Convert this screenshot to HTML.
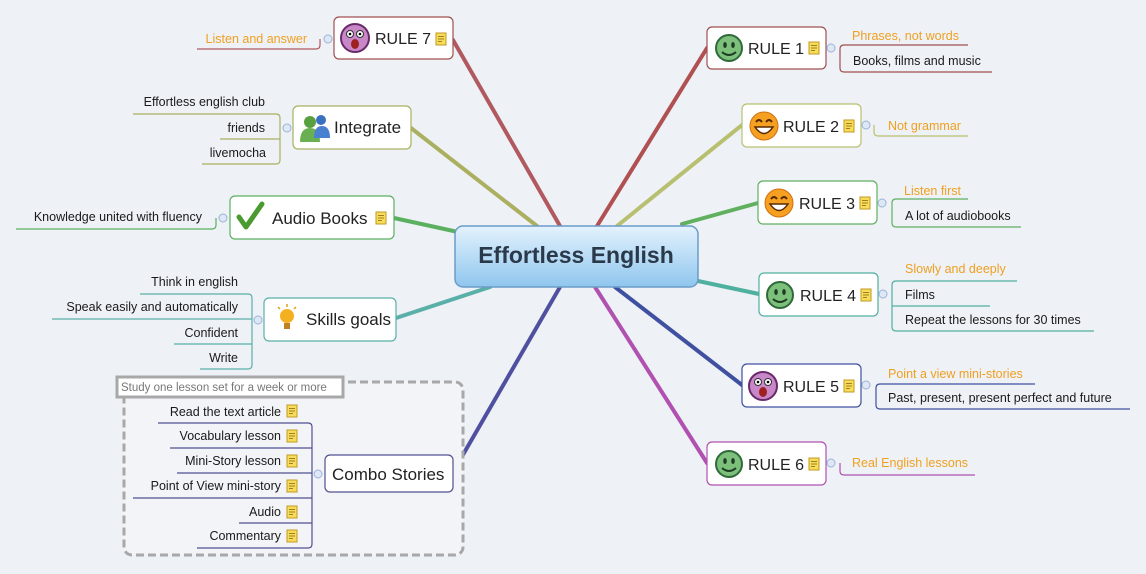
<!DOCTYPE html>
<html><head><meta charset="utf-8"><style>
html,body{margin:0;padding:0;background:#eef1f6;}
svg{display:block;font-family:"Liberation Sans",sans-serif;}
.l{font-size:12.5px;fill:#1a1a1a}
.o{font-size:12.5px;fill:#f0a020}
.n{font-size:17px;fill:#222}
.r{font-size:16px;fill:#222}
</style></head><body>
<svg width="1146" height="574" viewBox="0 0 1146 574" xmlns="http://www.w3.org/2000/svg">
<defs>
<linearGradient id="cg" x1="0" y1="0" x2="0" y2="1"><stop offset="0" stop-color="#e4f2fd"/><stop offset="1" stop-color="#8fc6ee"/></linearGradient>
<g id="note"><rect x="0" y="0" width="10" height="12" fill="#f7dc5a" stroke="#c09a20" stroke-width="1"/><line x1="2" y1="3.5" x2="8" y2="3.5" stroke="#a08020"/><line x1="2" y1="6" x2="8" y2="6" stroke="#a08020"/><line x1="2" y1="8.5" x2="6" y2="8.5" stroke="#a08020"/></g>
<g id="green"><circle r="13" fill="#7cc07c" stroke="#2f6a3a" stroke-width="2"/><ellipse cx="-4" cy="-3" rx="1.8" ry="3" fill="#1d3d22"/><ellipse cx="4" cy="-3" rx="1.8" ry="3" fill="#1d3d22"/><path d="M-7 4 Q0 10 7 4" stroke="#1d3d22" stroke-width="2" fill="none"/></g>
<g id="laugh"><circle r="14" fill="#f5a020" stroke="#d07010" stroke-width="1"/><path d="M-8 -4 Q-5 -8 -2 -4 M2 -4 Q5 -8 8 -4" stroke="#5a2a00" stroke-width="2" fill="none"/><path d="M-9 1 Q0 14 9 1 Z" fill="#fff" stroke="#5a2a00" stroke-width="1.5"/></g>
<g id="shock"><circle r="14" fill="#c888c8" stroke="#6a2a6a" stroke-width="2"/><circle cx="-5" cy="-4" r="3.5" fill="#fff" stroke="#333"/><circle cx="5" cy="-4" r="3.5" fill="#fff" stroke="#333"/><circle cx="-5" cy="-4" r="1.3" fill="#000"/><circle cx="5" cy="-4" r="1.3" fill="#000"/><ellipse cx="0" cy="6" rx="4" ry="5" fill="#a02020"/></g>
</defs>

<g stroke-linecap="round" fill="none">
<path d="M453 40 L560 226" stroke="#b05a60" stroke-width="4"/>
<path d="M411 128 L537 226" stroke="#aab060" stroke-width="4"/>
<path d="M394 218 L458 232" stroke="#5bb060" stroke-width="4"/>
<path d="M396 318 L490 287" stroke="#5ab0a8" stroke-width="4"/>
<path d="M453 472 L560 287" stroke="#5050a0" stroke-width="4"/>
<path d="M707 48 L597 226" stroke="#b05050" stroke-width="4"/>
<path d="M742 125 L617 226" stroke="#b8c070" stroke-width="4"/>
<path d="M758 203 L682 224" stroke="#60b060" stroke-width="4"/>
<path d="M759 294 L698 281" stroke="#50b0a0" stroke-width="4"/>
<path d="M742 385 L615 287" stroke="#4050a0" stroke-width="4"/>
<path d="M707 463 L595 287" stroke="#b050b0" stroke-width="4"/>
</g>

<rect x="455" y="226" width="243" height="61" rx="8" fill="url(#cg)" stroke="#6a9cc8" stroke-width="1.5"/>
<text x="576" y="263" text-anchor="middle" style="font-size:23px;font-weight:bold;fill:#2a3a4a">Effortless English</text>

<rect x="124" y="382" width="339" height="173" rx="8" fill="#f2f4f8" stroke="#a8a8a8" stroke-width="3" stroke-dasharray="8 4"/>
<rect x="117" y="377" width="226" height="20" fill="#fff" stroke="#a8a8a8" stroke-width="3"/>
<text x="121" y="391" style="font-size:11.5px;fill:#777">Study one lesson set for a week or more</text>

<g fill="#fff" stroke-width="1.2">
<rect x="707" y="27" width="119" height="42" rx="5" stroke="#a05050"/>
<rect x="742" y="104" width="119" height="43" rx="5" stroke="#b8c070"/>
<rect x="758" y="181" width="119" height="43" rx="5" stroke="#60b060"/>
<rect x="759" y="273" width="119" height="43" rx="5" stroke="#50b0a0"/>
<rect x="742" y="364" width="119" height="43" rx="5" stroke="#4050a0"/>
<rect x="707" y="442" width="119" height="43" rx="5" stroke="#b050b0"/>
<rect x="334" y="17" width="119" height="42" rx="5" stroke="#a05050"/>
<rect x="293" y="106" width="118" height="43" rx="5" stroke="#aab060"/>
<rect x="230" y="196" width="164" height="43" rx="5" stroke="#5bb060"/>
<rect x="264" y="298" width="132" height="43" rx="5" stroke="#5ab0a8"/>
<rect x="325" y="455" width="128" height="37" rx="5" stroke="#505090"/>
</g>
<use href="#green" x="729" y="48"/><text class="r" x="748" y="54">RULE 1</text><use href="#note" x="809" y="42"/>
<use href="#laugh" x="764" y="126"/><text class="r" x="783" y="132">RULE 2</text><use href="#note" x="844" y="120"/>
<use href="#laugh" x="779" y="203"/><text class="r" x="799" y="209">RULE 3</text><use href="#note" x="860" y="197"/>
<use href="#green" x="780" y="295"/><text class="r" x="800" y="301">RULE 4</text><use href="#note" x="861" y="289"/>
<use href="#shock" x="763" y="386"/><text class="r" x="783" y="392">RULE 5</text><use href="#note" x="844" y="380"/>
<use href="#green" x="729" y="464"/><text class="r" x="748" y="470">RULE 6</text><use href="#note" x="809" y="458"/>
<use href="#shock" x="355" y="38"/><text class="r" x="375" y="44">RULE 7</text><use href="#note" x="436" y="33"/>
<g transform="translate(300,114)"><circle cx="10" cy="8" r="6" fill="#5aa040"/><path d="M0 28 Q0 14 10 14 Q20 14 20 28 Z" fill="#6ab050"/><circle cx="21" cy="6" r="5" fill="#3a70c0"/><path d="M14 24 Q14 12 22 12 Q30 12 30 24 Z" fill="#4a80d0"/></g>
<text class="n" x="334" y="133">Integrate</text>
<path d="M239 217 L246 227 L262 204" stroke="#4a9a30" stroke-width="5" fill="none" stroke-linecap="round" stroke-linejoin="round"/>
<text class="n" x="272" y="224">Audio Books</text><use href="#note" x="376" y="212"/>
<g transform="translate(287,320)"><circle cx="0" cy="-4" r="7" fill="#f5b020"/><rect x="-3" y="3" width="6" height="6" fill="#c08020"/><path d="M-9 -13 L-7 -11 M0 -16 L0 -13 M9 -13 L7 -11" stroke="#e0a020" stroke-width="1.5"/></g>
<text class="n" x="306" y="325">Skills goals</text>
<text class="n" x="332" y="480">Combo Stories</text>

<g fill="#dde7f5" stroke="#9ab4d8" stroke-width="1">
<circle cx="831" cy="48" r="4"/><circle cx="866" cy="125" r="4"/><circle cx="882" cy="203" r="4"/><circle cx="883" cy="294" r="4"/><circle cx="866" cy="385" r="4"/><circle cx="831" cy="463" r="4"/>
<circle cx="328" cy="39" r="4"/><circle cx="287" cy="128" r="4"/><circle cx="223" cy="218" r="4"/><circle cx="258" cy="320" r="4"/><circle cx="318" cy="474" r="4"/>
</g>

<g fill="none" stroke-width="1.2">
<path d="M968 45 L844 45 Q840 45 840 49 L840 68 Q840 72 844 72 L992 72" stroke="#a05050"/>
<path d="M874 125 L874 132 Q874 136 878 136 L968 136" stroke="#b8c070"/>
<path d="M968 199 L896 199 Q892 199 892 203 L892 223 Q892 227 896 227 L1021 227" stroke="#60b060"/>
<path d="M1017 281 L896 281 Q892 281 892 285 L892 327 Q892 331 896 331 L1094 331 M892 306 L990 306" stroke="#50b0a0"/>
<path d="M1035 384 L880 384 Q876 384 876 388 L876 405 Q876 409 880 409 L1130 409" stroke="#4050a0"/>
<path d="M840 463 L840 471 Q840 475 844 475 L975 475" stroke="#b050b0"/>
<path d="M320 39 L320 45 Q320 49 316 49 L197 49" stroke="#b05a60"/>
<path d="M133 114 L276 114 Q280 114 280 118 L280 160 Q280 164 276 164 L202 164 M220 139 L280 139" stroke="#aab060"/>
<path d="M216 218 L216 225 Q216 229 212 229 L16 229" stroke="#5bb060"/>
<path d="M140 294 L248 294 Q252 294 252 298 L252 365 Q252 369 248 369 L200 369 M52 319 L252 319 M174 344 L252 344" stroke="#5ab0a8"/>
<path d="M158 423 L308 423 Q312 423 312 427 L312 544 Q312 548 308 548 L197 548 M170 448 L312 448 M177 473 L312 473 M133 498 L312 498 M239 523 L312 523" stroke="#505090"/>
</g>
<text class="o" x="852" y="40">Phrases, not words</text>
<text class="l" x="853" y="65">Books, films and music</text>
<text class="o" x="888" y="130">Not grammar</text>
<text class="o" x="904" y="195">Listen first</text>
<text class="l" x="905" y="220">A lot of audiobooks</text>
<text class="o" x="905" y="273">Slowly and deeply</text>
<text class="l" x="905" y="299">Films</text>
<text class="l" x="905" y="324">Repeat the lessons for 30 times</text>
<text class="o" x="888" y="378">Point a view mini-stories</text>
<text class="l" x="888" y="402">Past, present, present perfect and future</text>
<text class="o" x="852" y="467">Real English lessons</text>

<g text-anchor="end">
<text class="o" x="307" y="43">Listen and answer</text>
<text class="l" x="265" y="106">Effortless english club</text>
<text class="l" x="265" y="132">friends</text>
<text class="l" x="266" y="157">livemocha</text>
<text class="l" x="202" y="221">Knowledge united with fluency</text>
<text class="l" x="238" y="286">Think in english</text>
<text class="l" x="238" y="311">Speak easily and automatically</text>
<text class="l" x="238" y="337">Confident</text>
<text class="l" x="238" y="362">Write</text>
<text class="l" x="281" y="416">Read the text article</text>
<text class="l" x="281" y="440">Vocabulary lesson</text>
<text class="l" x="281" y="465">Mini-Story lesson</text>
<text class="l" x="281" y="490">Point of View mini-story</text>
<text class="l" x="281" y="516">Audio</text>
<text class="l" x="281" y="540">Commentary</text>
</g>
<use href="#note" x="287" y="405"/><use href="#note" x="287" y="430"/><use href="#note" x="287" y="455"/><use href="#note" x="287" y="480"/><use href="#note" x="287" y="506"/><use href="#note" x="287" y="530"/>
</svg>
</body></html>
